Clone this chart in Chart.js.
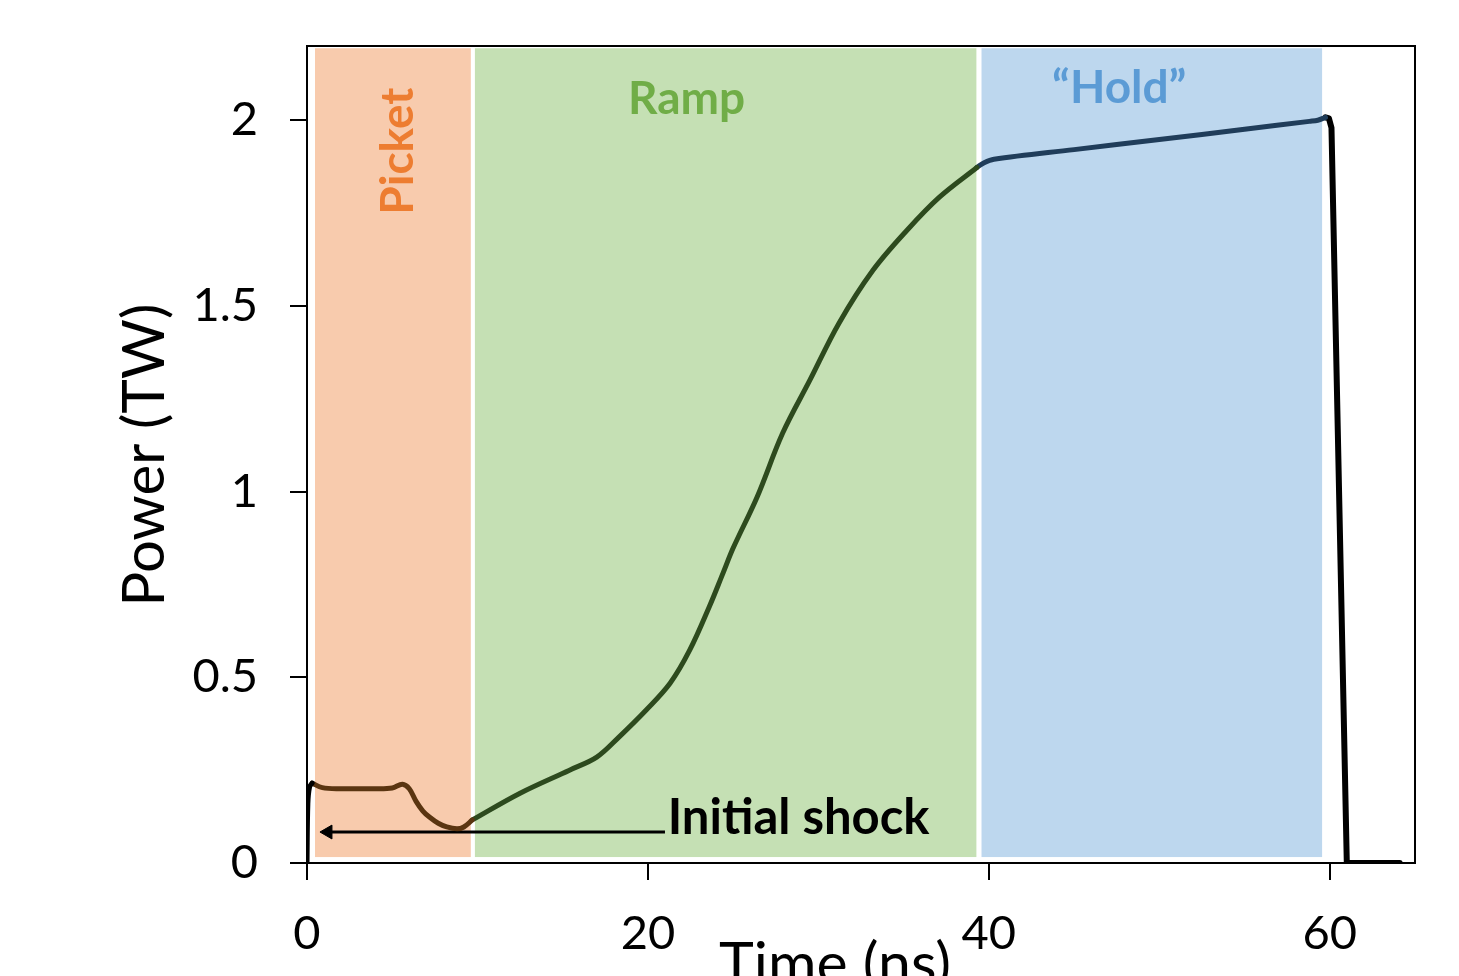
<!DOCTYPE html>
<html>
<head>
<meta charset="utf-8">
<title>Power (TW)</title>
<script src="https://cdn.jsdelivr.net/npm/chart.js@4.4.1/dist/chart.umd.min.js"></script>
<style>
  html, body { margin: 0; padding: 0; background: #fff; }
  #wrap { width: 1459px; height: 976px; }
</style>
</head>
<body>
<div id="wrap"><canvas id="grafico" width="1459" height="976"></canvas></div>
<script>
// Dados (tempo em ns, potência em TW)
const inicioT = [0, 0.05, 0.15, 0.3];
const inicioP = [0, 0.16, 0.205, 0.215];

const picketT = [0.3, 0.9, 2, 3, 4, 5, 5.6, 6.0, 6.4, 6.8, 7.2, 7.7, 8.2, 8.8, 9.2, 9.7];
const picketP = [0.215, 0.203, 0.2, 0.2, 0.2, 0.202, 0.212, 0.2, 0.166, 0.14, 0.123, 0.107, 0.097, 0.092, 0.097, 0.116];

const rampT = [9.7, 12.5, 15.4, 17, 18.3, 19.9, 21.3, 22.45, 23.6, 24.4, 25.0, 26.4, 27.9, 29.5, 31.2, 33.2, 35.2, 37.1, 39.3];
const rampP = [0.116, 0.188, 0.25, 0.285, 0.339, 0.412, 0.484, 0.573, 0.69, 0.78, 0.848, 0.985, 1.157, 1.30, 1.453, 1.596, 1.704, 1.793, 1.873];

const holdT = [39.3, 39.7, 40.3, 45, 50, 55, 58.8, 59.3, 59.75];
const holdP = [1.873, 1.885, 1.895, 1.921, 1.948, 1.976, 1.997, 2.0, 2.008];

const quedaT = [59.75, 59.95, 60.1, 61.0, 61.2, 64.1];
const quedaP = [2.008, 2.005, 1.98, 0, 0, 0];

// Seta "Initial shock"
const setaT = [21.0, 1.23];
const setaP = [0.0834, 0.0834];

// Faixas (fases do pulso)
const faixaNomes = ['Picket', 'Ramp', '\u201cHold\u201d'];
const faixaInicio = [0.47, 9.85, 39.57];
const faixaFim = [9.61, 39.27, 59.55];
const faixaBase = 0.016;
const faixaTopo = 2.194;

// Posição dos rótulos das faixas (em coordenadas de dados)
const rotuloT = [5.33, 22.27, 47.65];
const rotuloP = [1.917, 2.057, 2.086];

const textoChoque = 'Initial shock';
const choqueT = 21.16;
const choqueP = 0.078;

const ticksX = [0, 20, 40, 60];
const ticksY = [0, 0.5, 1, 1.5, 2];

// Estilos
const coresFaixa = ['#f8cbad', '#c5e0b4', '#bdd7ee'];
const coresRotulo = ['#ed7d31', '#70ad47', '#5b9bd5'];
const FONTE = 'Lato, "Open Sans", sans-serif';

function pontos(ts, ps) {
    return ts.map((t, i) => ({ x: t, y: ps[i] }));
}

function serie(ts, ps, cor, suave) {
    return {
        data: pontos(ts, ps),
        showLine: true,
        borderColor: cor,
        borderWidth: 5,
        pointRadius: 0,
        fill: false,
        tension: suave ? 0.35 : 0,
        borderCapStyle: 'round',
        borderJoinStyle: 'round'
    };
}

// Plugin: faixas de fundo, rótulos e moldura
const fasesPlugin = {
    id: 'fases',
    beforeDatasetsDraw(chart) {
        const { ctx, scales: { x, y } } = chart;
        ctx.save();
        faixaInicio.forEach((t0, i) => {
            const x0 = x.getPixelForValue(t0);
            const x1 = x.getPixelForValue(faixaFim[i]);
            const yTop = y.getPixelForValue(faixaTopo);
            const yBot = y.getPixelForValue(faixaBase);
            ctx.fillStyle = coresFaixa[i];
            ctx.fillRect(x0, yTop, x1 - x0, yBot - yTop);
        });

        // rótulos das fases
        ctx.font = 'bold 46px ' + FONTE;
        ctx.textAlign = 'center';
        ctx.textBaseline = 'middle';
        faixaNomes.forEach((nome, i) => {
            const px = x.getPixelForValue(rotuloT[i]);
            const py = y.getPixelForValue(rotuloP[i]);
            ctx.fillStyle = coresRotulo[i];
            if (i === 0) {
                ctx.save();
                ctx.translate(px, py);
                ctx.rotate(-Math.PI / 2);
                ctx.fillText(nome, 0, 0);
                ctx.restore();
            } else {
                ctx.fillText(nome, px, py);
            }
        });
        ctx.restore();
    },
    afterDraw(chart) {
        const { ctx, chartArea: a, scales: { x, y } } = chart;
        ctx.save();
        // moldura
        ctx.strokeStyle = '#000';
        ctx.lineWidth = 2;
        ctx.strokeRect(a.left, a.top, a.right - a.left, a.bottom - a.top);

        // texto da seta
        ctx.fillStyle = '#000';
        ctx.font = 'bold 49px ' + FONTE;
        ctx.textAlign = 'left';
        ctx.textBaseline = 'alphabetic';
        ctx.fillText(textoChoque, x.getPixelForValue(choqueT), y.getPixelForValue(choqueP));

        // títulos dos eixos
        ctx.font = '58px ' + FONTE;
        ctx.textAlign = 'center';
        ctx.textBaseline = 'middle';
        ctx.save();
        ctx.translate(145, 455);
        ctx.rotate(-Math.PI / 2);
        ctx.fillText('Power (TW)', 0, 0);
        ctx.restore();

        ctx.font = '59px ' + FONTE;
        ctx.textBaseline = 'top';
        ctx.fillText('Time (ns)', 835, 935);
        ctx.restore();
    }
};

const ctx = document.getElementById('grafico').getContext('2d');

const queda = serie(quedaT, quedaP, '#000000', false);
queda.borderWidth = 6;

const seta = serie(setaT, setaP, '#000', false);
seta.borderWidth = 3;
seta.borderCapStyle = 'butt';
seta.pointRadius = [0, 8];
seta.pointStyle = 'triangle';
seta.pointRotation = -90;
seta.pointBackgroundColor = '#000';
seta.pointBorderColor = '#000';
seta.pointBorderWidth = 1;

const grafico = new Chart(ctx, {
    type: 'scatter',
    data: {
        datasets: [
            serie(inicioT, inicioP, '#000000', true),
            serie(picketT, picketP, '#5a3511', true),
            serie(rampT, rampP, '#2d4a1e', true),
            serie(holdT, holdP, '#203d5a', true),
            queda,
            seta
        ]
    },
    options: {
        responsive: false,
        animation: false,
        events: [],
        layout: { padding: { top: 46, right: 44, left: 0, bottom: 0 } },
        plugins: {
            legend: { display: false },
            tooltip: { enabled: false }
        },
        scales: {
            x: {
                type: 'linear',
                min: 0,
                max: 65,
                afterFit: s => { s.height = 113; },
                afterBuildTicks: s => { s.ticks = ticksX.map(v => ({ value: v })); },
                border: { display: false },
                grid: { drawOnChartArea: false, drawTicks: true, tickLength: 17, color: '#000', lineWidth: 2 },
                ticks: {
                    padding: 26,
                    color: '#000',
                    font: { family: FONTE, size: 47 },
                    maxRotation: 0,
                    autoSkip: false,
                    callback: v => String(v)
                }
            },
            y: {
                type: 'linear',
                min: 0,
                max: 2.2,
                afterFit: s => { s.width = 307; s.paddingTop = 0; s.paddingBottom = 0; },
                afterBuildTicks: s => { s.ticks = ticksY.map(v => ({ value: v })); },
                border: { display: false },
                grid: { drawOnChartArea: false, drawTicks: true, tickLength: 17, color: '#000', lineWidth: 2 },
                ticks: {
                    padding: 32,
                    color: '#000',
                    font: { family: FONTE, size: 47 },
                    autoSkip: false,
                    callback: v => String(v)
                }
            }
        }
    },
    plugins: [fasesPlugin]
});
</script>
</body>
</html>
